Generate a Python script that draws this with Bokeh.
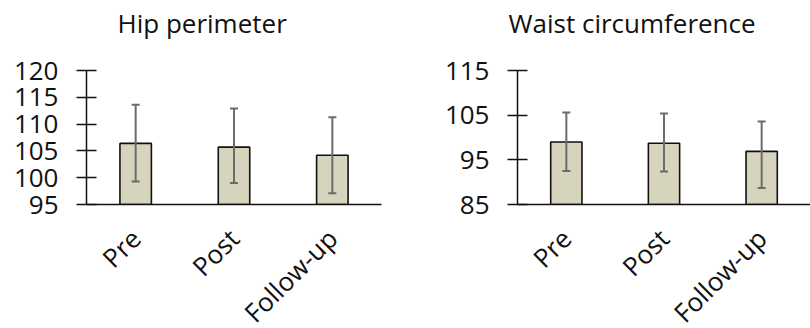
import math
from bokeh.plotting import figure
from bokeh.models import Range1d, FixedTicker, Whisker, TeeHead, ColumnDataSource, CategoricalAxis
from bokeh.layouts import row
from bokeh.embed import file_html
from bokeh.resources import INLINE

categories = ["Pre", "Post", "Follow-up"]

hip_title = "Hip perimeter"
hip_mean = [106.4, 105.7, 104.2]
hip_upper = [113.6, 112.9, 111.3]
hip_lower = [99.3, 99.0, 97.1]
hip_ticks = [95, 100, 105, 110, 115, 120]

waist_title = "Waist circumference"
waist_mean = [99.0, 98.7, 96.9]
waist_upper = [105.6, 105.4, 103.6]
waist_lower = [92.5, 92.4, 88.7]
waist_ticks = [85, 95, 105, 115]

FONT = "Open Sans"
BAR_FILL = "#d6d4bc"
ERR_COLOR = "#6b6b6b"
TXT = "#111111"


def make_panel(title, means, upper, lower, ticks, frame_w, border_left, border_right, title_dx):
    p = figure(x_range=categories, y_range=Range1d(ticks[0], ticks[-1]),
               frame_width=frame_w, frame_height=134,
               output_backend="svg", toolbar_location=None,
               min_border_left=border_left, min_border_right=border_right,
               min_border_top=70, min_border_bottom=10)
    p.outline_line_color = None
    p.background_fill_color = "white"
    p.border_fill_color = "white"
    p.grid.grid_line_color = None

    # a blank (white-on-white) axis above the frame acts as a spacer under the title
    spacer = CategoricalAxis(axis_line_color=None, major_tick_line_color="white",
                             minor_tick_line_color=None, major_tick_out=28, major_tick_in=0,
                             major_label_text_color=None, major_label_standoff=0)
    p.add_layout(spacer, "above")

    p.title.text = title
    p.title.text_font = FONT
    p.title.text_font_size = "26px"
    p.title.text_font_style = "normal"
    p.title.text_color = TXT
    p.title.align = "left"
    p.title.offset = title_dx
    p.title.vertical_align = "bottom"
    p.title.standoff = 4

    src = ColumnDataSource(dict(cat=categories, mean=means, upper=upper, lower=lower))
    p.vbar(x="cat", top="mean", bottom=ticks[0], width=0.32, source=src,
           fill_color=BAR_FILL, line_color=TXT, line_width=1.6)
    w = Whisker(base="cat", upper="upper", lower="lower", source=src, level="annotation",
                line_color=ERR_COLOR, line_width=2,
                upper_head=TeeHead(size=8, line_color=ERR_COLOR, line_width=2),
                lower_head=TeeHead(size=8, line_color=ERR_COLOR, line_width=2))
    p.add_layout(w)

    yax = p.yaxis[0]
    yax.ticker = FixedTicker(ticks=ticks)
    yax.minor_tick_line_color = None
    yax.major_tick_out = 10
    yax.major_tick_in = 10
    yax.major_label_standoff = 18
    yax.major_label_text_font = FONT
    yax.major_label_text_font_size = "26px"
    yax.major_label_text_color = TXT
    yax.axis_line_color = TXT
    yax.axis_line_width = 1.5
    yax.major_tick_line_color = TXT
    yax.major_tick_line_width = 1.5

    xax = p.below[0]
    xax.major_tick_line_color = None
    xax.minor_tick_line_color = None
    xax.major_tick_out = 0
    xax.major_tick_in = 0
    xax.axis_line_color = TXT
    xax.axis_line_width = 1.5
    xax.major_label_orientation = math.pi / 4
    xax.major_label_standoff = 29
    xax.major_label_text_font = FONT
    xax.major_label_text_font_size = "26px"
    xax.major_label_text_color = TXT
    return p


p1 = make_panel(hip_title, hip_mean, hip_upper, hip_lower, hip_ticks, 295, 86, 24, 31)
p2 = make_panel(waist_title, waist_mean, waist_upper, waist_lower, waist_ticks, 293, 112, 0, -9)

layout = row(p1, p2)
open("out.html", "w").write(file_html(layout, INLINE))
